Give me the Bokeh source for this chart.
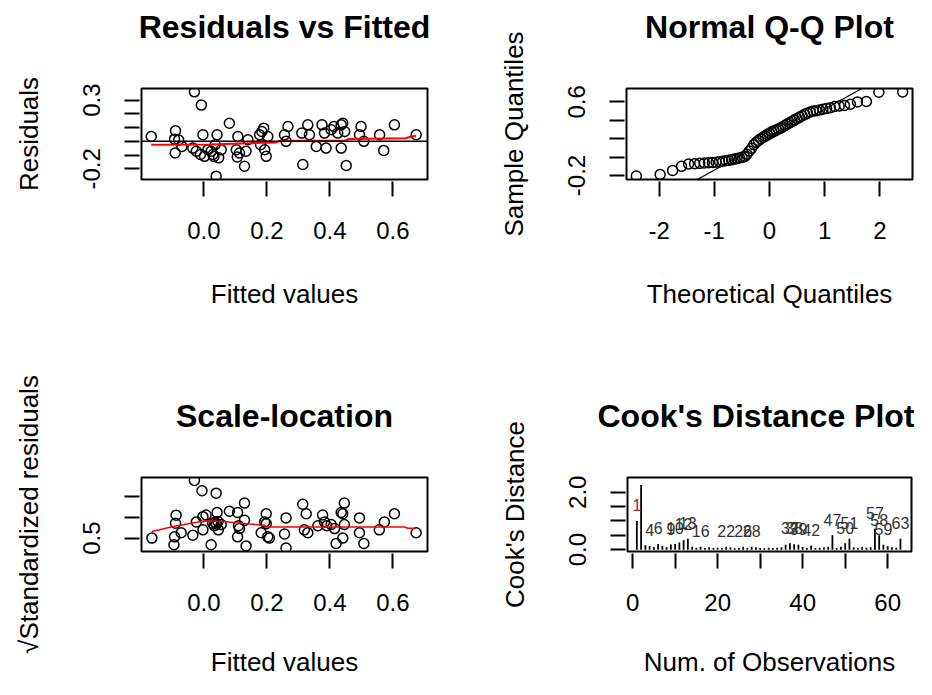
import math
from statistics import NormalDist
from bokeh.plotting import figure
from bokeh.layouts import column, row
from bokeh.models import Range1d, FixedTicker, Span, Slope, ColumnDataSource, Title
from bokeh.core.properties import value
from bokeh.embed import file_html
from bokeh.resources import INLINE

FONT = "Liberation Sans"

# ---------------- data ----------------
fitted = [-0.167, -0.090, -0.093, -0.091, -0.070, -0.080, -0.030, -0.008, -0.035, -0.024,
          -0.011, -0.003, 0.002, 0.013, 0.023, 0.029, 0.036, 0.042, 0.047, 0.055,
          0.039, 0.032, 0.081, 0.103, 0.108, 0.106, 0.113, 0.129, 0.134, 0.140,
          0.177, 0.184, 0.190, 0.180, 0.193, 0.198, 0.203, 0.256, 0.267, 0.261,
          0.311, 0.314, 0.330, 0.335, 0.357, 0.375, 0.383, 0.388, 0.404, 0.413,
          0.425, 0.436, 0.441, 0.436, 0.452, 0.447, 0.499, 0.494, 0.508, 0.558,
          0.571, 0.605, 0.674]
residuals = [0.035, 0.077, 0.016, -0.085, -0.037, 0.010, 0.360, 0.264, -0.049, -0.072,
             -0.096, 0.048, -0.109, -0.061, -0.072, -0.096, -0.025, 0.048, -0.120, -0.061,
             -0.253, -0.110, 0.132, -0.061, 0.035, -0.114, -0.085, -0.181, -0.072, 0.012,
             0.048, 0.072, 0.096, -0.025, -0.061, -0.109, 0.035, 0.048, 0.108, 0.000,
             0.060, -0.168, 0.120, 0.048, -0.037, 0.120, 0.060, -0.049, 0.084, 0.108,
             0.060, 0.120, 0.132, -0.049, -0.176, 0.072, 0.108, 0.048, 0.000, 0.048,
             -0.066, 0.120, 0.048]
resid_smooth_x = [-0.167, 0.02, 0.23, 0.24, 0.45, 0.46, 0.64, 0.66, 0.674]
resid_smooth_y = [-0.025, -0.022, -0.008, 0.004, 0.006, 0.018, 0.022, 0.035, 0.040]

qq_sample = [-0.207, -0.189, -0.145, -0.101, -0.075, -0.072, -0.068, -0.065, -0.062, -0.058,
             -0.055, -0.050, -0.045, -0.040, -0.035, -0.030, -0.022, -0.015, -0.010, -0.003,
             0.005, 0.030, 0.065, 0.095, 0.135, 0.160, 0.180, 0.200, 0.215, 0.230,
             0.245, 0.260, 0.275, 0.285, 0.295, 0.305, 0.315, 0.330, 0.345, 0.360,
             0.375, 0.390, 0.405, 0.420, 0.435, 0.450, 0.465, 0.478, 0.490, 0.500,
             0.505, 0.512, 0.520, 0.528, 0.537, 0.550, 0.555, 0.562, 0.575, 0.600,
             0.605, 0.705, 0.709]
qq_line_intercept = 0.19
qq_line_slope = 0.332

sl_x = [-0.165, -0.088, -0.090, -0.093, -0.095, -0.072, -0.030, -0.006, 0.039, -0.035,
        -0.024, -0.003, -0.003, 0.007, 0.023, 0.028, 0.033, 0.042, 0.046, 0.055,
        0.036, 0.040, 0.081, 0.107, 0.113, 0.107, 0.110, 0.129, 0.129, 0.134,
        0.182, 0.193, 0.198, 0.203, 0.208, 0.198, 0.261, 0.256, 0.261, 0.314,
        0.325, 0.319, 0.330, 0.362, 0.377, 0.383, 0.404, 0.415, 0.436, 0.446,
        0.441, 0.420, 0.441, 0.446, 0.494, 0.494, 0.508, 0.557, 0.573, 0.605,
        0.674, 0.390, 0.045]
sl_y = [0.50, 1.056, 0.86, 0.53, 0.34, 0.63, 1.90, 1.65, 1.59, 0.57,
        0.89, 1.02, 0.70, 1.06, 0.34, 0.86, 0.80, 1.12, 0.70, 0.83,
        0.88, 0.84, 1.15, 1.12, 0.73, 0.53, 0.80, 1.35, 0.93, 0.31,
        0.63, 0.89, 1.09, 0.53, 0.50, 0.85, 0.99, 0.60, 0.26, 1.32,
        1.09, 0.70, 0.63, 0.80, 1.06, 0.89, 0.83, 0.73, 1.12, 1.35,
        1.09, 0.37, 0.50, 0.83, 0.99, 0.63, 0.37, 0.70, 0.89, 1.09,
        0.63, 0.80, 0.90]
sl_smooth_x = [-0.165, -0.093, -0.019, 0.007, 0.065, 0.118, 0.193, 0.200, 0.404, 0.637, 0.648, 0.674]
sl_smooth_y = [0.66, 0.79, 0.89, 0.92, 0.90, 0.86, 0.81, 0.77, 0.77, 0.77, 0.74, 0.74]

cooks = [1.00, 2.25, 0.15, 0.13, 0.09, 0.20, 0.13, 0.08, 0.18, 0.20,
         0.25, 0.33, 0.38, 0.10, 0.07, 0.10, 0.06, 0.08, 0.06, 0.07,
         0.06, 0.10, 0.08, 0.05, 0.06, 0.10, 0.06, 0.10, 0.08, 0.06,
         0.05, 0.07, 0.06, 0.07, 0.08, 0.17, 0.22, 0.19, 0.17, 0.09,
         0.06, 0.14, 0.06, 0.07, 0.08, 0.10, 0.50, 0.06, 0.10, 0.22,
         0.38, 0.08, 0.06, 0.10, 0.07, 0.08, 0.73, 0.50, 0.17, 0.12,
         0.08, 0.07, 0.38]
cook_labels = [1, 4, 6, 9, 10, 12, 13, 16, 22, 26, 28, 37, 38, 39, 42, 47, 50, 51, 57, 58, 59, 63]

# ---------------- helpers ----------------
def make_fig(w, h, l, r, t, b, xr, yr, xticks, xlabels, yticks, ylabels,
             title, xlab, ylab, xlab_standoff=37, title_align="center", title_offset=0):
    p = figure(width=w, height=h, x_range=Range1d(*xr), y_range=Range1d(*yr),
               output_backend="svg", toolbar_location=None, tools="",
               min_border_left=l, min_border_right=r, min_border_top=t, min_border_bottom=b)
    p.grid.visible = False
    p.outline_line_color = "black"
    p.outline_line_width = 2
    p.background_fill_color = "white"
    p.border_fill_color = "white"
    p.xaxis.ticker = FixedTicker(ticks=xticks)
    p.yaxis.ticker = FixedTicker(ticks=yticks)
    p.xaxis.major_label_overrides = dict(zip(xticks, xlabels))
    p.yaxis.major_label_overrides = dict(zip(yticks, ylabels))
    for ax in (p.xaxis[0], p.yaxis[0]):
        ax.axis_line_color = None
        ax.major_tick_line_color = "black"
        ax.major_tick_line_width = 2
        ax.major_tick_in = -2
        ax.major_tick_out = 17
        ax.minor_tick_line_color = None
        ax.major_label_text_font = FONT
        ax.major_label_text_font_size = "24px"
        ax.major_label_text_color = "black"
        ax.axis_label_text_font = FONT
        ax.axis_label_text_font_size = "26px"
        ax.axis_label_text_font_style = "normal"
        ax.axis_label_text_color = "black"
    p.xaxis.axis_label_standoff = xlab_standoff
    p.yaxis.axis_label_standoff = 37
    p.xaxis.major_label_standoff = 25
    p.yaxis.major_label_standoff = 24
    p.yaxis.major_label_orientation = "vertical"
    p.xaxis.axis_label = xlab
    p.yaxis.axis_label = ylab
    # invisible spacer between the frame and the title (closest to the frame)
    p.add_layout(Title(text=" ", text_font_size="1px", standoff=41), "above")
    p.title.text = title
    p.title.align = title_align
    p.title.offset = title_offset
    p.title.text_font = FONT
    p.title.text_font_size = "32px"
    p.title.text_font_style = "bold"
    p.title.text_color = "black"
    p.title.standoff = 0
    return p


def points(p, x, y):
    p.scatter(x, y, marker="circle", size=10, fill_color=None, line_color="black", line_width=1.5)

# ---------------- panel 1: residuals vs fitted ----------------
p1 = make_fig(466, 347, 141, 39, 88, 167, (-0.198, 0.71), (-0.2775, 0.3845),
              [0.0, 0.2, 0.4, 0.6], ["0.0", "0.2", "0.4", "0.6"],
              [-0.2, -0.1, 0.0, 0.1, 0.2, 0.3], ["-0.2", "", "", "", "", "0.3"],
              "Residuals vs Fitted", "Fitted values", "Residuals")
points(p1, fitted, residuals)
p1.add_layout(Span(location=0, dimension="width", line_color="black", line_width=1.5))
p1.line(resid_smooth_x, resid_smooth_y, line_color="red", line_width=2)

# ---------------- panel 2: normal Q-Q ----------------
n = len(qq_sample)
nd = NormalDist()
theo = [nd.inv_cdf((i - 0.5) / n) for i in range(1, n + 1)]
p2 = make_fig(450, 347, 160, 4, 88, 168, (-2.59, 2.59), (-0.244, 0.746),
              [-2, -1, 0, 1, 2], ["-2", "-1", "0", "1", "2"],
              [-0.2, 0.0, 0.2, 0.4, 0.6], ["-0.2", "", "", "", "0.6"],
              "Normal Q-Q Plot", "Theoretical Quantiles", "Sample Quantiles")
points(p2, theo, qq_sample)
p2.add_layout(Slope(gradient=qq_line_slope, y_intercept=qq_line_intercept, line_color="black", line_width=1.2))

# ---------------- panel 3: scale-location ----------------
p3 = make_fig(466, 332, 141, 39, 130, 111, (-0.198, 0.71), (0.175, 1.97),
              [0.0, 0.2, 0.4, 0.6], ["0.0", "0.2", "0.4", "0.6"],
              [0.5, 1.0, 1.5], ["0.5", "", ""],
              "Scale-location", "Fitted values", "√Standardized residuals", xlab_standoff=33)
points(p3, sl_x, sl_y)
p3.line(sl_smooth_x, sl_smooth_y, line_color="red", line_width=1.5)

# ---------------- panel 4: Cook's distance ----------------
obs = list(range(1, len(cooks) + 1))
p4 = make_fig(450, 332, 161, 5, 130, 111, (-1.2, 65.6), (-0.065, 2.515),
              [0, 10, 20, 30, 40, 50, 60], ["0", "", "20", "", "40", "", "60"],
              [0.0, 0.5, 1.0, 1.5, 2.0], ["0.0", "", "", "", "2.0"],
              "Cook's Distance Plot", "Num. of Observations", "Cook's Distance",
              xlab_standoff=33, title_align="right", title_offset=-3)
p4.segment(x0=obs, y0=[0] * len(obs), x1=obs, y1=cooks, line_color="black", line_width=1.8)
lab_src = ColumnDataSource(dict(
    x=cook_labels,
    y=[cooks[i - 1] + 0.55 for i in cook_labels],
    t=[str(i) for i in cook_labels],
    c=["#9e2a2f" if i == 1 else "#333333" for i in cook_labels],
))
p4.text(x="x", y="y", text="t", source=lab_src, text_font=value(FONT), text_font_size="16px",
        text_align="center", text_baseline="middle", text_color="c")

layout = column(row(p1, p2), row(p3, p4))
open("out.html", "w").write(file_html(layout, INLINE))
